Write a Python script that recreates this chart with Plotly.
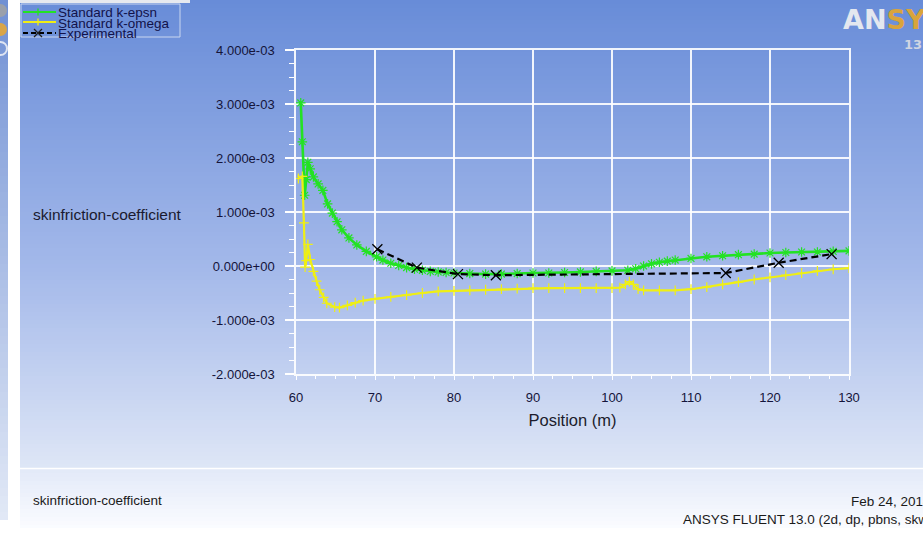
import plotly.graph_objects as go

# ---------------- data (skin friction coefficient, values in units of 1e-3) ----------------
SCALE = 1e-3

x_epsn = [60.6, 60.8, 61.1, 61.3, 61.5, 61.8, 62.2, 62.8, 63.4, 64.0, 64.6, 65.2, 65.8,
          66.7, 67.7, 68.9, 70.2, 71.0, 72.0, 73.0, 74.0, 75.0, 76.0, 77.0, 78.0, 79.0,
          80.0, 82.0, 84.0, 86.0, 88.0, 90.0, 92.0, 94.0, 96.0, 98.0, 100.0, 102.0,
          103.0, 104.0, 105.0, 106.0, 107.0, 108.0, 110.0, 112.0, 114.0, 116.0, 118.0,
          120.0, 122.0, 124.0, 126.0, 128.0, 130.0]
cf_epsn = [3.02, 2.30, 1.31, 1.60, 1.92, 1.80, 1.65, 1.52, 1.40, 1.15, 0.98, 0.82, 0.67,
           0.52, 0.39, 0.27, 0.17, 0.11, 0.05, 0.01, -0.03, -0.06, -0.08, -0.10, -0.11, -0.12,
           -0.13, -0.14, -0.15, -0.15, -0.14, -0.13, -0.13, -0.12, -0.11, -0.10, -0.09, -0.08,
           -0.05, 0.00, 0.04, 0.07, 0.09, 0.11, 0.14, 0.17, 0.19, 0.21, 0.22,
           0.24, 0.25, 0.26, 0.26, 0.27, 0.28]

x_omega = [60.3, 60.8, 61.0, 61.15, 61.3, 61.5, 61.8, 62.2, 62.6, 63.0, 63.5, 63.9, 64.9,
           65.5, 66.5, 67.5, 68.5, 70.0, 72.0, 74.0, 76.0, 78.0, 80.0, 82.0, 84.0, 86.0,
           88.0, 90.0, 92.0, 94.0, 96.0, 98.0, 100.0, 101.0, 101.7, 102.2, 102.7, 103.3,
           104.0, 106.0, 108.0, 110.0, 112.0, 114.0, 116.0, 118.0, 120.0, 122.0, 124.0,
           126.0, 128.0, 130.0]
cf_omega = [1.62, 1.66, 0.80, -0.02, 0.10, 0.40, 0.12, -0.10, -0.28, -0.44, -0.58, -0.69, -0.76,
            -0.77, -0.73, -0.68, -0.64, -0.61, -0.57, -0.54, -0.50, -0.47, -0.46, -0.45, -0.44, -0.43,
            -0.42, -0.41, -0.41, -0.41, -0.41, -0.41, -0.41, -0.40, -0.34, -0.29, -0.34, -0.43,
            -0.45, -0.45, -0.45, -0.43, -0.39, -0.34, -0.30, -0.25, -0.21, -0.17, -0.13,
            -0.09, -0.06, -0.04]

x_exp = [70.3, 75.3, 80.5, 85.3, 114.4, 121.1, 127.8]
cf_exp = [0.31, -0.03, -0.15, -0.17, -0.13, 0.06, 0.22]

y_tickvals = [-2e-3, -1e-3, 0.0, 1e-3, 2e-3, 3e-3, 4e-3]
y_ticktext = ["-2.000e-03", "-1.000e-03", "0.000e+00", "1.000e-03", "2.000e-03", "3.000e-03", "4.000e-03"]
x_tickvals = [60, 70, 80, 90, 100, 110, 120, 130]
x_ticktext = ["60", "70", "80", "90", "100", "110", "120", "130"]

series_names = ["Standard k-epsn", "Standard k-omega", "Experimental"]

# ---------------- layout geometry (pixels) ----------------
WIDTH, HEIGHT = 923, 546
L, R, T, B = 296, 849, 50, 374
PW, PH = R - L, B - T


def px(x):
    return (x - L) / PW


def py(y):
    return (B - y) / PH


FONT = "Liberation Sans, Arial, sans-serif"
TXT = "#14143a"
GREEN = "#23e223"
YELLOW = "#efef14"

fig = go.Figure()

fig.add_trace(go.Scatter(
    x=x_epsn, y=[v * SCALE for v in cf_epsn], mode="lines+markers", name=series_names[0],
    line=dict(color=GREEN, width=2.6),
    marker=dict(symbol="asterisk-open", size=8, line=dict(color=GREEN, width=1.2)),
    showlegend=False))
fig.add_trace(go.Scatter(
    x=x_omega, y=[v * SCALE for v in cf_omega], mode="lines+markers", name=series_names[1],
    line=dict(color=YELLOW, width=2.2),
    marker=dict(symbol="cross-thin-open", size=7, line=dict(color=YELLOW, width=1.2)),
    showlegend=False))
fig.add_trace(go.Scatter(
    x=x_exp, y=[v * SCALE for v in cf_exp], mode="lines+markers", name=series_names[2],
    line=dict(color="black", width=2.2, dash="7px,4px"),
    marker=dict(symbol="x-thin-open", size=10, line=dict(color="#202020", width=1.3)),
    showlegend=False))

shapes = []


def lerp(stops, t):
    for (t0, c0), (t1, c1) in zip(stops[:-1], stops[1:]):
        if t0 <= t <= t1:
            f = (t - t0) / (t1 - t0) if t1 > t0 else 0
            return "rgb(%d,%d,%d)" % tuple(round(a + (b - a) * f) for a, b in zip(c0, c1))
    c = stops[-1][1] if t > stops[-1][0] else stops[0][1]
    return "rgb(%d,%d,%d)" % c


main_stops = [(0, (104, 140, 216)), (270, (164, 185, 234)), (468, (222, 230, 246))]
foot_stops = [(469, (226, 233, 248)), (528, (251, 252, 255))]
left_stops = [(0, (112, 144, 212)), (520, (226, 233, 246))]

step = 4
for y0 in range(0, 468, step):
    y1 = min(y0 + step, 468)
    shapes.append(dict(type="rect", xref="paper", yref="paper", layer="below",
                       x0=px(20), x1=px(WIDTH + 2), y0=py(y0), y1=py(y1),
                       fillcolor=lerp(main_stops, (y0 + y1) / 2), line=dict(width=0)))
for y0 in range(469, 528, step):
    y1 = min(y0 + step, 528)
    shapes.append(dict(type="rect", xref="paper", yref="paper", layer="below",
                       x0=px(20), x1=px(WIDTH + 2), y0=py(y0), y1=py(y1),
                       fillcolor=lerp(foot_stops, (y0 + y1) / 2), line=dict(width=0)))
for y0 in range(0, 520, 8):
    y1 = min(y0 + 8, 520)
    shapes.append(dict(type="rect", xref="paper", yref="paper", layer="below",
                       x0=px(-2), x1=px(8), y0=py(y0), y1=py(y1),
                       fillcolor=lerp(left_stops, (y0 + y1) / 2), line=dict(width=0)))
# footer separator
shapes.append(dict(type="line", xref="paper", yref="paper", layer="below",
                   x0=px(20), x1=px(WIDTH + 2), y0=py(468.5), y1=py(468.5),
                   line=dict(color="white", width=1.5)))
# top window edge over legend
shapes.append(dict(type="rect", xref="paper", yref="paper", layer="below",
                   x0=px(20), x1=px(190), y0=py(0), y1=py(3),
                   fillcolor="#e6e9ef", line=dict(width=0)))
# left strip icons
shapes.append(dict(type="circle", xref="paper", yref="paper", layer="below",
                   x0=px(-6), x1=px(7), y0=py(4), y1=py(17), fillcolor="#9aa0ab", line=dict(width=0)))
shapes.append(dict(type="circle", xref="paper", yref="paper", layer="below",
                   x0=px(-6), x1=px(7), y0=py(23), y1=py(36), fillcolor="#d9a548", line=dict(width=0)))
shapes.append(dict(type="circle", xref="paper", yref="paper", layer="below",
                   x0=px(-6), x1=px(7), y0=py(42), y1=py(55), fillcolor="rgba(0,0,0,0)",
                   line=dict(color="#dfe5f2", width=2)))

# legend box
shapes.append(dict(type="rect", xref="paper", yref="paper", layer="above",
                   x0=px(21), x1=px(180), y0=py(4), y1=py(37),
                   fillcolor="rgba(0,0,0,0)", line=dict(color="#c9d6ef", width=1)))
leg_rows = [12, 22, 33]
leg_colors = [GREEN, YELLOW, "black"]
for yr, col, dash in zip(leg_rows, leg_colors, ["solid", "solid", "5px,3px"]):
    shapes.append(dict(type="line", xref="paper", yref="paper", layer="above",
                       x0=px(23), x1=px(56), y0=py(yr), y1=py(yr),
                       line=dict(color=col, width=2.2, dash=dash)))
for yr, col in zip(leg_rows[:2], leg_colors[:2]):
    shapes.append(dict(type="path", xref="paper", yref="paper", layer="above",
                       path="M %f %f L %f %f M %f %f L %f %f" % (
                           px(35), py(yr), px(41), py(yr), px(38), py(yr - 3.5), px(38), py(yr + 3.5)),
                       line=dict(color=col, width=1.3)))
yr = leg_rows[2]
shapes.append(dict(type="path", xref="paper", yref="paper", layer="above",
                   path="M %f %f L %f %f M %f %f L %f %f" % (
                       px(34), py(yr - 4), px(42), py(yr + 4), px(34), py(yr + 4), px(42), py(yr - 4)),
                   line=dict(color="#202020", width=1.3)))

annotations = []


def ann(text, x, y, size, color=TXT, xanchor="left", yanchor="middle", family=FONT):
    annotations.append(dict(text=text, x=px(x), y=py(y), xref="paper", yref="paper",
                            xanchor=xanchor, yanchor=yanchor, showarrow=False,
                            font=dict(family=family, size=size, color=color)))


for name, yr in zip(series_names, [13, 23, 33]):
    ann(name, 56, yr, 13.5, color="#12124a")
ann("skinfriction-coefficient", 31, 214, 15.5, color="#1a1a30")
ann("skinfriction-coefficient", 31, 500, 13.5, color="#1a1a1a")
ann("Feb 24, 2014", 849, 501, 13.5, color="#1a1a1a")
ann("ANSYS FLUENT 13.0 (2d, dp, pbns, skw)", 681, 519, 13.5, color="#1a1a1a")
ann("<b><span style='color:#e3e7ef'>AN</span><span style='color:#d9a43c'>SYS</span></b>",
    841, 19, 27, color="#e3e7ef", family="DejaVu Sans, Liberation Sans, sans-serif")
ann("<b>13</b>", 902, 45, 13, color="#cfd5e2", family="DejaVu Sans, sans-serif")

fig.update_layout(
    width=WIDTH, height=HEIGHT, autosize=False,
    margin=dict(l=L, r=WIDTH - R, t=T, b=HEIGHT - B, pad=0),
    paper_bgcolor="white", plot_bgcolor="rgba(0,0,0,0)",
    font=dict(family=FONT, color=TXT),
    showlegend=False,
    shapes=shapes, annotations=annotations,
    xaxis=dict(range=[60, 130], tickvals=x_tickvals, ticktext=x_ticktext,
               showgrid=True, gridcolor="rgba(255,255,255,0.9)", gridwidth=1.5,
               zeroline=False, showline=True, mirror=True, linecolor="rgba(255,255,255,0.9)", linewidth=1.5,
               ticks="outside", ticklen=4, tickcolor="white", tickwidth=1.2,
               ticklabelstandoff=7, tickfont=dict(size=13, color=TXT),
               minor=dict(dtick=2.5, tick0=60, ticks="outside", ticklen=3, tickcolor="white",
                          tickwidth=1, showgrid=False),
               title=dict(text="Position (m)", font=dict(size=16.5, color="#1c1c2c"), standoff=10)),
    yaxis=dict(range=[-2e-3, 4e-3], tickvals=y_tickvals, ticktext=y_ticktext,
               showgrid=True, gridcolor="rgba(255,255,255,0.9)", gridwidth=1.5,
               zeroline=False, showline=True, mirror=True, linecolor="rgba(255,255,255,0.9)", linewidth=1.5,
               ticks="outside", ticklen=9, tickcolor="white", tickwidth=1.5,
               ticklabelstandoff=8, tickfont=dict(size=13, color=TXT),
               minor=dict(dtick=0.25e-3, tick0=0, ticks="outside", ticklen=5, tickcolor="white",
                          tickwidth=1, showgrid=False)),
)

fig.write_html("out.html")
